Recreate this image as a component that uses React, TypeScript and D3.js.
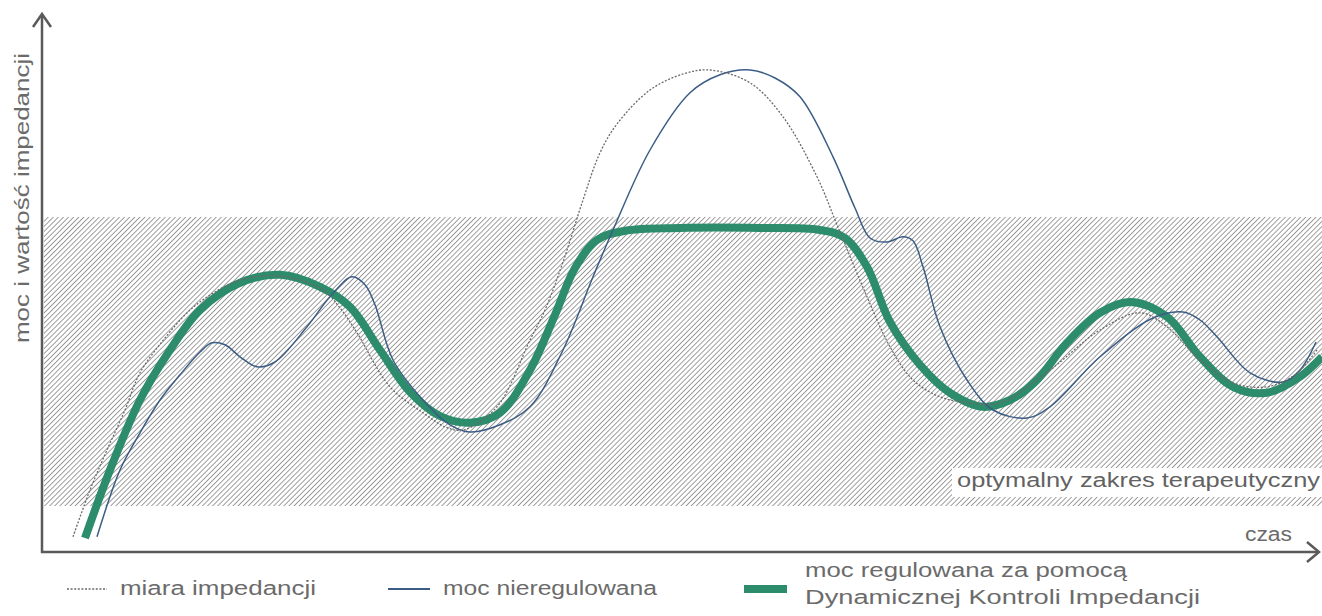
import React from "react";
import * as d3 from "d3";

// Time / value samples (arbitrary units: time 0–128, value 0–128)
const bandLow = 11.5;
const bandHigh = 83.75;

const impedanceTime = [3.1, 4.8, 6.5, 8.3, 9.8, 12.3, 14.8, 17.3, 19.8, 23.8, 28.1, 29.8, 31.5, 34.8, 38.1, 40.3, 42.1, 45.5, 48.8, 50.3, 52.1, 54.1, 55.8, 57.5, 60.8, 64.1, 66.8, 70.8, 74.1, 77.5, 79.5, 82.5, 84.8, 87.1, 89.8, 92.8, 95.8, 100.8, 105.8, 109.8, 112.5, 115.8, 119.1, 122.5, 125.3, 127.5];
const impedanceValue = [3.8, 15.5, 25.5, 35.5, 44.8, 53.5, 60.5, 65, 68, 69, 65.5, 61, 54.8, 41.3, 34.8, 31.3, 30.5, 36.3, 53, 60.5, 72.5, 88, 99.8, 107, 115.5, 119.5, 120.5, 117.3, 108.8, 93.8, 81.8, 63.8, 51.3, 43, 38.8, 37.3, 37.3, 45.5, 55.5, 59.8, 56.3, 48, 42.3, 41.3, 44.3, 50.5];

const unregulatedTime = [5.5, 7.8, 9.8, 11.8, 13.8, 15.8, 17, 18.3, 19.8, 21.5, 23.3, 26.5, 28.8, 31, 32.3, 33.3, 35.1, 38.1, 40.8, 42.8, 45.8, 48.8, 52.1, 55.1, 57.1, 60.8, 64.8, 67.8, 70.8, 73.3, 75.8, 79.1, 81.3, 82.8, 84.5, 86.1, 87.1, 88.1, 89.8, 92.5, 95.1, 98.5, 100.8, 105.8, 111.1, 114.1, 115.8, 117.5, 120.8, 124.1, 125.8, 127.4];
const unregulatedValue = [3.8, 20.5, 29.8, 38, 44.3, 50, 52.3, 51.8, 48.8, 46.3, 47.5, 56.3, 63.8, 68.8, 66.8, 61.8, 48, 38, 31.8, 30, 31.8, 36.3, 50.5, 68.8, 80.5, 100.5, 114.8, 119.3, 120.5, 118.5, 113.8, 98.8, 86, 78.5, 77.5, 78.8, 77.8, 71.3, 56.3, 43, 35.5, 33.5, 36.3, 48.8, 58.5, 60, 58, 53.8, 44.8, 42.5, 45.5, 52.5];

const regulatedTime = [4.3, 6.8, 9.8, 12.8, 15.8, 19.8, 23.8, 27.8, 30.8, 33.8, 36.8, 39.8, 42.8, 45.8, 48.8, 51.3, 53.3, 55.5, 58.3, 63.8, 71.8, 77.8, 80.3, 82.5, 84.8, 87.8, 90.8, 94.1, 96.8, 99.3, 102.5, 105.8, 108.8, 112.5, 115.8, 119.1, 122.5, 125.8, 128];
const regulatedValue = [3.5, 20.5, 38, 50.5, 60.5, 67.3, 69.3, 66.3, 61.3, 50.5, 40, 34, 32.3, 34.8, 45.5, 59.3, 71, 78, 80.3, 81, 81, 80.5, 78.5, 71.3, 57.5, 46.8, 39.8, 36.3, 38, 42.5, 52.3, 59.8, 62.5, 58.8, 48.8, 41.3, 39.8, 43.8, 48.8];

const yAxisLabel = "moc i wartość impedancji";
const xAxisLabel = "czas";
const bandLabel = "optymalny zakres terapeutyczny";
const legendImpedance = "miara impedancji";
const legendUnregulated = "moc nieregulowana";
const legendRegulated1 = "moc regulowana za pomocą";
const legendRegulated2 = "Dynamicznej Kontroli Impedancji";

const zip = (t: number[], v: number[]) => t.map((d, i) => [d, v[i]] as [number, number]);

export default function App() {
  const W = 1322, H = 616;
  const x = d3.scaleLinear().domain([0, 128]).range([42, 1322]);
  const y = d3.scaleLinear().domain([0, 128]).range([552, 40]);
  const line = d3
    .line<[number, number]>()
    .x((d) => x(d[0]))
    .y((d) => y(d[1]))
    .curve(d3.curveCatmullRom.alpha(0.5));

  const textColor = "#6b6b6b";
  const axisColor = "#5a5a5a";
  const green = "#2c8c6c";
  const blue = "#3b5d85";
  const font = "'Liberation Sans', Arial, sans-serif";

  return (
    <svg width={W} height={H} style={{ position: "absolute", left: 0, top: 0, background: "#fff" }}>
      <defs>
        <pattern id="hatch" patternUnits="userSpaceOnUse" width={3.6} height={10} patternTransform="rotate(45)">
          <line x1={0} y1={-2} x2={0} y2={12} stroke="#868686" strokeWidth={1.6} />
        </pattern>
      </defs>
      <rect x={x(0) + 2} y={y(bandHigh)} width={W - x(0) - 2} height={y(bandLow) - y(bandHigh)} fill="url(#hatch)" />
      <rect x={952} y={468} width={W - 952} height={29} fill="#fff" />
      <text x={957} y={487} fontFamily={font} fontSize={20} fill="#626262" textLength={363} lengthAdjust="spacingAndGlyphs">
        {bandLabel}
      </text>

      <path d={line(zip(regulatedTime, regulatedValue)) || ""} fill="none" stroke={green} strokeWidth={8} strokeLinecap="butt" />
      <path d={line(zip(unregulatedTime, unregulatedValue)) || ""} fill="none" stroke={blue} strokeWidth={1.5} />
      <path d={line(zip(impedanceTime, impedanceValue)) || ""} fill="none" stroke="#6a6a6a" strokeWidth={1.3} strokeDasharray="2 1.6" />

      {/* axes */}
      <line x1={42} y1={15} x2={42} y2={553} stroke={axisColor} strokeWidth={2.5} />
      <polyline points="33,27 42,14 51,27" fill="none" stroke={axisColor} strokeWidth={2.5} />
      <line x1={41} y1={552} x2={1318} y2={552} stroke={axisColor} strokeWidth={2.5} />
      <polyline points="1307,542 1319,552 1307,562" fill="none" stroke={axisColor} strokeWidth={2.5} />

      <text transform="translate(29,343) rotate(-90)" fontFamily={font} fontSize={20} fill={textColor} textLength={290} lengthAdjust="spacingAndGlyphs">
        {yAxisLabel}
      </text>
      <text x={1245} y={541} fontFamily={font} fontSize={20} fill={textColor} textLength={47} lengthAdjust="spacingAndGlyphs">
        {xAxisLabel}
      </text>

      {/* legend */}
      <line x1={67} y1={589} x2={107} y2={589} stroke="#6a6a6a" strokeWidth={1.5} strokeDasharray="2 1.6" />
      <text x={120} y={595} fontFamily={font} fontSize={20} fill={textColor} textLength={196} lengthAdjust="spacingAndGlyphs">
        {legendImpedance}
      </text>
      <line x1={388} y1={589} x2={430} y2={589} stroke={blue} strokeWidth={2} />
      <text x={443} y={595} fontFamily={font} fontSize={20} fill={textColor} textLength={214} lengthAdjust="spacingAndGlyphs">
        {legendUnregulated}
      </text>
      <rect x={744} y={585} width={43} height={8} fill={green} />
      <text x={805} y={577} fontFamily={font} fontSize={20} fill={textColor} textLength={322} lengthAdjust="spacingAndGlyphs">
        {legendRegulated1}
      </text>
      <text x={805} y={604} fontFamily={font} fontSize={20} fill={textColor} textLength={395} lengthAdjust="spacingAndGlyphs">
        {legendRegulated2}
      </text>
    </svg>
  );
}
